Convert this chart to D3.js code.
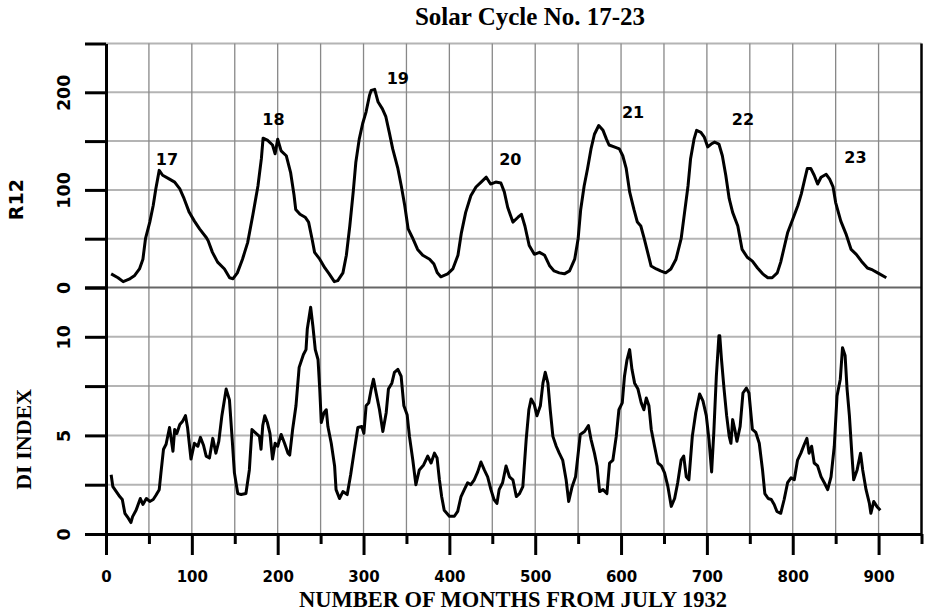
<!DOCTYPE html>
<html>
<head>
<meta charset="utf-8">
<script src="https://cdn.jsdelivr.net/npm/d3@7"></script>
<style>
  body { margin: 0; background: #fff; }
  .sans { font-family: "DejaVu Sans", Verdana, sans-serif; font-weight: bold; }
  .serif { font-family: "Liberation Serif", "Times New Roman", serif; font-weight: bold; }
</style>
</head>
<body>
<div id="chart"></div>
<script>
// smoothed sunspot number R12, [month from July 1932, value]
const r12 = [
  [6,14],[14,10],[20,6],[27,8.5],[33,12],[39,19],[43,29],[46,50],[51,67],[55,84],[58,101],[62,120],
  [66,115],[74,111],[80,108],[86,101],[91,91],[97,77],[103,68],[109,60],[117,51],[119,48],[124,36],
  [130,26],[138,19],[144,10],[148,9],[153,15],[159,29],[165,46],[171,74],[177,104],[181,132],[183,153],
  [188,151],[194,146],[197,137],[200,152],[204,140],[210,135],[215,118],[219,95],[221,80],[226,75],
  [232,72],[236,67],[240,50],[243,36],[249,29],[255,20],[260,14],[266,6],[270,7],[276,15],[280,33],
  [284,63],[288,98],[291,128],[295,152],[299,168],[303,180],[307,197],[309,202],[313,203],[317,190],
  [322,183],[326,175],[330,159],[334,142],[340,122],[344,104],[348,84],[352,60],[357,51],[363,39],
  [369,33],[377,29],[382,24],[386,15],[390,11],[398,14],[404,19],[410,33],[414,56],[419,77],[425,94],
  [431,103],[437,108],[443,113],[448,106],[454,108],[460,107],[464,98],[468,82],[474,67],[480,72],
  [484,75],[488,63],[493,43],[499,34],[505,36],[511,33],[517,22],[522,17],[528,15],[534,14],[540,17],
  [546,29],[550,50],[553,80],[557,104],[561,122],[565,142],[569,157],[574,166],[579,161],[583,152],
  [586,146],[592,144],[598,142],[602,135],[606,122],[610,98],[615,80],[619,67],[623,63],[627,50],
  [631,36],[635,22],[641,19],[646,17],[652,15],[658,19],[664,29],[670,50],[674,77],[678,104],[681,132],
  [685,152],[688,161],[693,159],[697,154],[701,144],[705,147],[709,149],[714,147],[718,135],[722,115],
  [726,91],[730,77],[736,63],[741,39],[747,31],[753,27],[759,20],[765,14],[771,10],[776,10],[782,15],
  [786,26],[790,41],[794,56],[800,70],[806,84],[810,96],[814,111],[817,122],[821,122],[825,115],
  [829,106],[833,113],[839,116],[843,111],[847,103],[850,87],[856,68],[862,55],[868,39],[874,34],
  [880,27],[887,20],[893,18],[899,15],[909,10]
];

// DI index, [month from July 1932, value]
const di = [
  [6,3.0],[8,2.4],[12,2.15],[16,1.9],[19,1.75],[22,1.05],[26,0.8],[29,0.58],[31,0.88],[35,1.2],[40,1.8],
  [43,1.5],[47,1.8],[51,1.65],[55,1.75],[58,1.95],[62,2.25],[64,3.1],[67,4.3],[70,4.55],[74,5.4],[76,4.8],
  [78,4.2],[80,5.3],[82.5,5.1],[86,5.55],[89,5.7],[92.6,6.0],[95,5.4],[99,3.8],[103,4.6],[107,4.45],
  [110,4.9],[113.6,4.5],[116.7,3.95],[120.5,3.85],[124.4,4.85],[128,4.1],[131.4,4.7],[135,6.0],[140,7.35],
  [143.8,6.8],[147,4.8],[149.6,3.1],[153.5,2.05],[157.4,2.0],[163,2.05],[167,3.25],[170,5.3],[174.8,5.1],
  [178.7,4.95],[180.6,4.3],[182.6,5.5],[185,6.0],[188,5.65],[191,5.1],[194,3.8],[197,4.6],[200,4.45],
  [204,5.05],[208,4.6],[212,4.1],[214,4.0],[217.4,5.3],[221.3,6.5],[225,8.45],[230,9.1],[233,9.35],
  [234.5,10.4],[238.4,11.5],[241,10.55],[243.8,9.35],[247,8.85],[249,7.35],[250.8,5.65],[254,6.15],
  [256.6,6.3],[258.5,5.45],[262.4,4.6],[266.3,3.45],[268,2.25],[272,1.8],[276,2.15],[281,2.0],[285,3.0],
  [288.8,4.1],[293.4,5.4],[298,5.45],[300.4,5.1],[303,6.5],[306,6.65],[309,7.35],[311.6,7.85],[314.7,7.15],
  [318.6,6.3],[322.5,5.2],[326.4,6.15],[329,7.35],[333,7.65],[336,8.2],[340,8.35],[343.8,8.0],[347,6.5],
  [350.8,6.05],[353.5,4.95],[357.4,3.75],[361,2.5],[365,3.25],[370,3.5],[374.8,3.95],[378.7,3.6],
  [382.6,4.1],[385.7,3.85],[388.4,2.75],[391,1.9],[394,1.2],[400,0.9],[405.8,0.9],[409.7,1.15],
  [413.6,1.9],[417.4,2.25],[421.3,2.6],[425,2.5],[429,2.75],[433,3.15],[436.8,3.65],[440.7,3.25],
  [444.6,2.9],[448.4,2.25],[452,1.75],[455.4,1.55],[458,2.25],[462,2.6],[466,3.45],[470,2.9],[474,2.75],
  [478,1.9],[481.7,2.05],[485.6,2.4],[489.5,4.8],[492.6,6.3],[495.3,6.85],[499,6.55],[502,6.0],[506,6.5],
  [509,7.65],[511.7,8.2],[514.8,7.65],[517.5,6.3],[520.6,4.95],[524.5,4.45],[528,4.1],[532,3.75],
  [536,2.75],[539,1.65],[543,2.4],[547,2.9],[549.7,3.95],[552.5,5.05],[557.5,5.2],[562,5.5],[565,4.8],
  [569,4.1],[572,3.45],[575,2.15],[579,2.25],[583.5,2.05],[586.6,3.6],[590.5,3.75],[594.4,4.95],
  [597.5,6.3],[601.4,6.65],[604,8.0],[606.8,8.8],[610,9.35],[612.7,8.35],[615.8,7.65],[619.7,7.35],
  [623.5,6.65],[626.6,6.3],[629.4,6.9],[632.5,6.5],[635.2,5.3],[639,4.45],[643,3.6],[647,3.45],
  [650.7,3.1],[654.6,2.4],[658.5,1.4],[662.4,1.8],[666,2.6],[670,3.75],[673,3.95],[676,2.9],[679,2.75],
  [683,4.95],[687,6.15],[691.5,7.1],[695.4,6.75],[699.3,6.0],[702.4,4.8],[705.5,3.15],[708,5.1],[711,8.0],
  [714,10.05],[715,10.05],[717,8.85],[720,7.35],[723,6.0],[726,4.95],[728,4.6],[730,5.8],[732.5,5.3],
  [735,4.7],[738.7,5.45],[742,7.15],[746,7.4],[749,7.15],[753,5.3],[757,5.15],[761,4.6],[764.8,3.25],
  [767.5,2.05],[771.4,1.8],[775,1.75],[778.4,1.5],[781.5,1.15],[786,1.05],[790,1.75],[794,2.6],
  [798,2.85],[801.8,2.75],[805.6,3.75],[809.5,4.1],[813.5,4.55],[816.5,4.85],[819,4.1],[822,4.45],
  [825,3.6],[829,3.45],[833,2.9],[836.8,2.6],[840.7,2.25],[844.6,2.9],[848.4,4.45],[851.6,7.0],
  [855.4,7.85],[858,9.45],[861,9.05],[863.3,7.35],[866,6.0],[868.8,4.1],[871,2.75],[875,3.25],[879,4.1],
  [881.5,3.25],[885.4,2.25],[889.3,1.55],[891,1.05],[894.4,1.65],[898,1.4],[902,1.2]
];

// cycle number labels (placed in data units)
const cycleNames = ["17", "18", "19", "20", "21", "22", "23"];
const cycleLabelMonth = [71, 195, 340, 471, 614, 742, 873];
const cycleLabelR12 = [131, 172, 214, 131, 180, 172, 133];

const xMajorTicks = d3.range(0, 901, 100);
const xMinorTicks = d3.range(50, 951, 100);
const r12Ticks = [0, 50, 100, 150, 200, 250];
const r12Labels = [0, 100, 200];
const diTicks = [0, 2.5, 5, 7.5, 10, 12.5];
const diLabels = [0, 5, 10];

const W = 925, H = 613;
const svg = d3.select("#chart").append("svg")
    .attr("width", W)
    .attr("height", H);

const x = d3.scaleLinear().domain([0, 950]).range([106, 921.5]);
const yR = d3.scaleLinear().domain([0, 250]).range([287.5, 43.5]);
const yD = d3.scaleLinear().domain([0, 12.5]).range([534, 287.5]);

// horizontal grid
svg.append("g")
    .selectAll("line")
    .data(r12Ticks.slice(1))
    .join("line")
    .attr("x1", x(0)).attr("x2", x(950))
    .attr("y1", d => yR(d)).attr("y2", d => yR(d))
    .attr("stroke", "#b4b4b4").attr("stroke-width", 2);

svg.append("g")
    .selectAll("line")
    .data(diTicks.slice(1, -1))
    .join("line")
    .attr("x1", x(0)).attr("x2", x(950))
    .attr("y1", d => yD(d)).attr("y2", d => yD(d))
    .attr("stroke", "#b4b4b4").attr("stroke-width", 2);

// vertical grid
svg.append("g")
    .selectAll("line")
    .data(d3.range(50, 901, 50))
    .join("line")
    .attr("x1", d => x(d)).attr("x2", d => x(d))
    .attr("y1", yR(250)).attr("y2", yD(0))
    .attr("stroke", "#888").attr("stroke-width", 1.3);

// divider between panels
svg.append("line")
    .attr("x1", x(0)).attr("x2", x(950))
    .attr("y1", yR(0)).attr("y2", yR(0))
    .attr("stroke", "#666").attr("stroke-width", 2);

// right border
svg.append("line")
    .attr("x1", x(950)).attr("x2", x(950))
    .attr("y1", yR(250)).attr("y2", yD(0))
    .attr("stroke", "#000").attr("stroke-width", 2.5);

// curves
const lineR = d3.line().x(d => x(d[0])).y(d => yR(d[1]));
const lineD = d3.line().x(d => x(d[0])).y(d => yD(d[1]));

svg.append("path")
    .datum(r12)
    .attr("fill", "none")
    .attr("stroke", "#000")
    .attr("stroke-width", 3)
    .attr("stroke-linejoin", "round")
    .attr("d", lineR);

svg.append("path")
    .datum(di)
    .attr("fill", "none")
    .attr("stroke", "#000")
    .attr("stroke-width", 3)
    .attr("stroke-linejoin", "round")
    .attr("d", lineD);

// axes
function styleAxis(g) {
    g.select(".domain").attr("stroke", "#000").attr("stroke-width", 3);
    g.selectAll(".tick line").attr("stroke", "#000").attr("stroke-width", 3);
}

const xMajor = svg.append("g")
    .attr("transform", `translate(0,${yD(0)})`)
    .call(d3.axisBottom(x).tickValues(xMajorTicks).tickSize(21).tickSizeOuter(0))
    .call(styleAxis);
xMajor.selectAll("text")
    .attr("class", "sans")
    .attr("font-size", 15)
    .attr("fill", "#000")
    .attr("y", 48)
    .attr("dy", 0);

svg.append("g")
    .attr("transform", `translate(0,${yD(0)})`)
    .call(d3.axisBottom(x).tickValues(xMinorTicks).tickSize(10).tickSizeOuter(0).tickFormat(""))
    .call(styleAxis);

function leftAxis(scale, ticks, labels) {
    const g = svg.append("g")
        .attr("transform", `translate(${x(0)},0)`)
        .call(d3.axisLeft(scale).tickValues(ticks).tickSize(21).tickSizeOuter(0)
            .tickFormat(d => labels.includes(d) ? d : ""))
        .call(styleAxis);
    g.selectAll("text")
        .attr("class", "sans")
        .attr("font-size", 17.5)
        .attr("fill", "#000")
        .attr("x", null)
        .attr("dy", "0.36em")
        .attr("text-anchor", "middle")
        .attr("transform", "translate(-42.5,0) rotate(-90)");
}
leftAxis(yR, r12Ticks, r12Labels);
leftAxis(yD, diTicks, diLabels);

// cycle labels
svg.append("g")
    .selectAll("text")
    .data(cycleNames)
    .join("text")
    .attr("class", "sans")
    .attr("font-size", 16)
    .attr("text-anchor", "middle")
    .attr("dy", "0.36em")
    .attr("x", (d, i) => x(cycleLabelMonth[i]))
    .attr("y", (d, i) => yR(cycleLabelR12[i]))
    .text(d => d);

// titles
svg.append("text")
    .attr("class", "serif")
    .attr("font-size", 25)
    .attr("text-anchor", "middle")
    .attr("x", 530).attr("y", 25)
    .text("Solar Cycle No. 17-23");

svg.append("text")
    .attr("class", "serif")
    .attr("font-size", 22.5)
    .attr("text-anchor", "middle")
    .attr("x", 513).attr("y", 607)
    .text("NUMBER OF MONTHS FROM JULY 1932");

svg.append("text")
    .attr("class", "sans")
    .attr("font-size", 19)
    .attr("text-anchor", "middle")
    .attr("dy", "0.36em")
    .attr("transform", `translate(16,${yR(90)}) rotate(-90)`)
    .text("R12");

svg.append("text")
    .attr("class", "serif")
    .attr("font-size", 22)
    .attr("text-anchor", "middle")
    .attr("dy", "0.36em")
    .attr("transform", `translate(23,${yD(4.8)}) rotate(-90)`)
    .text("DI INDEX");
</script>
</body>
</html>
